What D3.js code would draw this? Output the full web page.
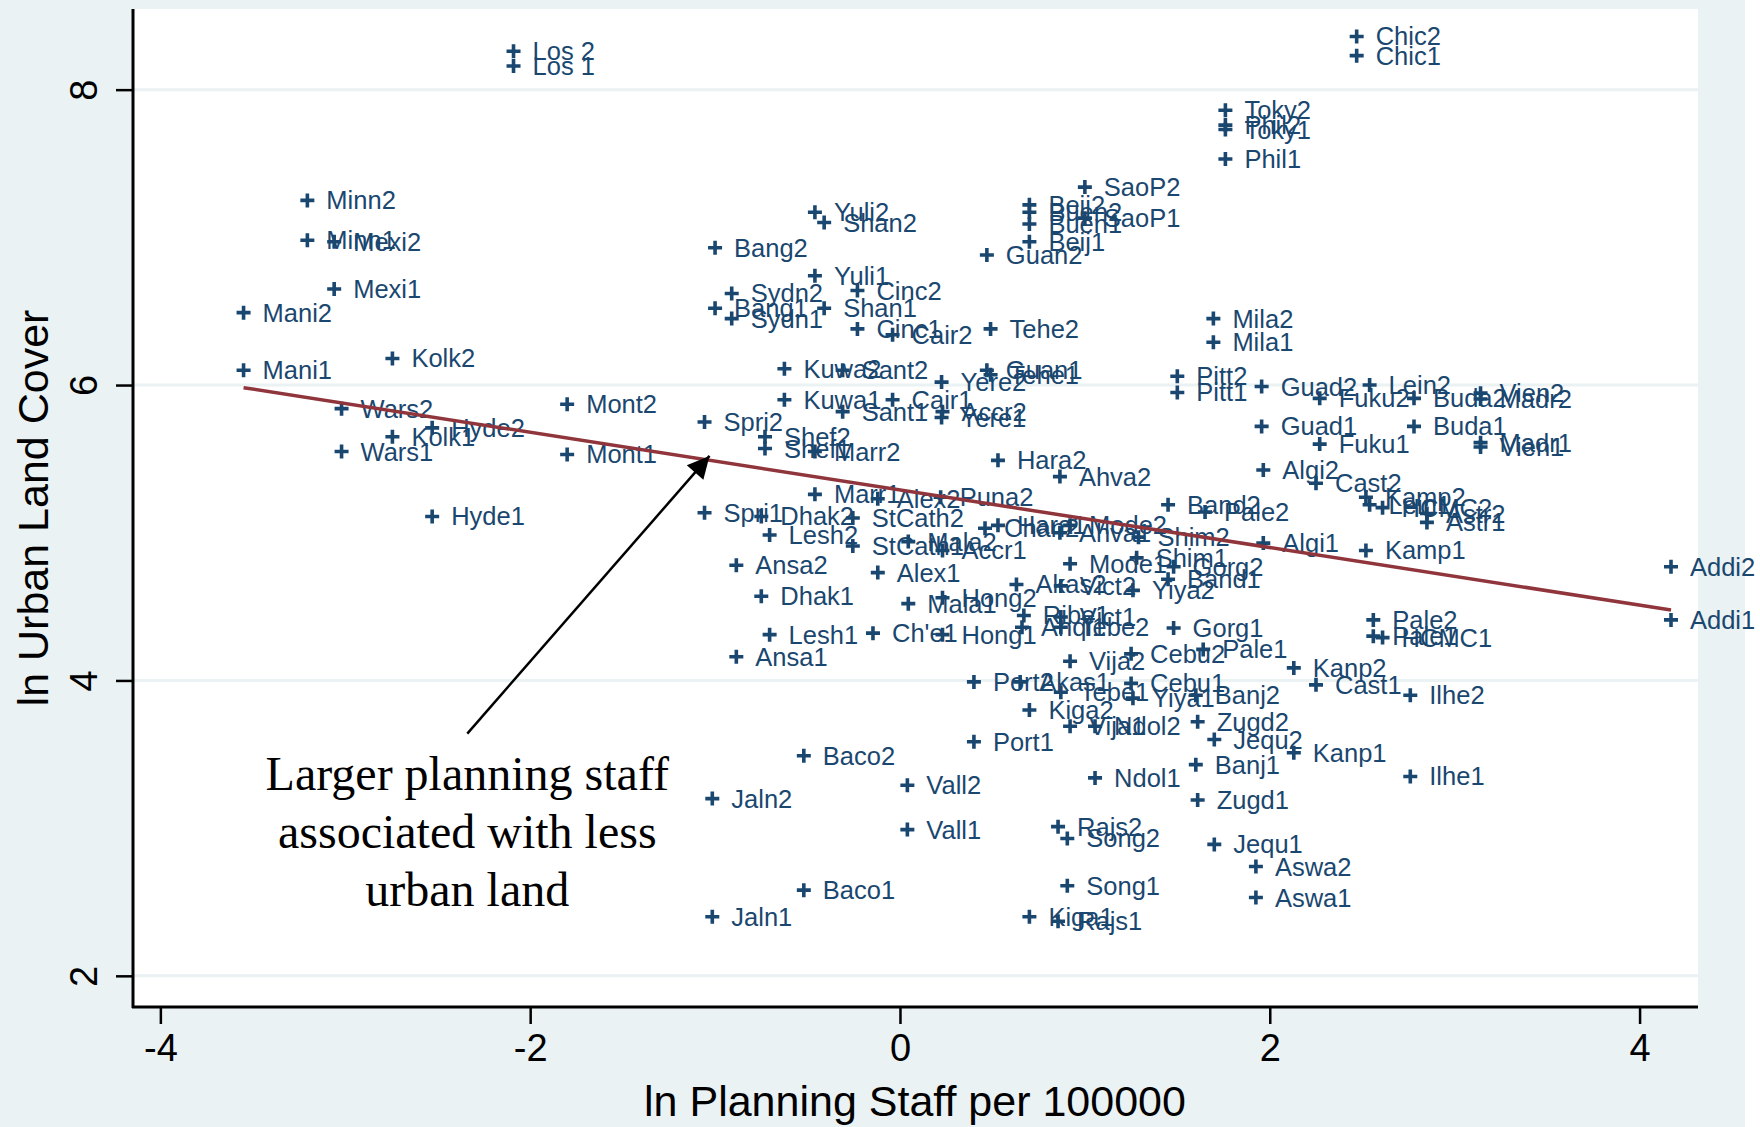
<!DOCTYPE html>
<head>
  <meta charset="utf-8">
  <script src="https://d3js.org/d3.v7.min.js"></script>
  <style>
    body { margin:0; background:#fff; }
    .pt { stroke:#1a476f; stroke-width:3.6; fill:none; }
    .lbl { fill:#1a476f; font-family:"Liberation Sans", Arial, sans-serif; font-size:25.5px; }
    .tick text { font-family:"Liberation Sans", Arial, sans-serif; font-size:38px; fill:#000; }
    .ttl { font-family:"Liberation Sans", Arial, sans-serif; font-size:43px; fill:#000; }
    .note { font-family:"Liberation Serif", "Times New Roman", serif; font-size:48px; fill:#000; }
  </style>
</head>
<body>
<script>
// city-period labels with ln planning staff (x) and ln urban land cover (y)
var cities = ["Los 2","Los 1","Chic2","Chic1","Toky2","Phil2","Toky1","Phil1","SaoP2","SaoP1",
  "Beij2","Buen2","Buen1","Beij1","Guan2","Minn2","Minn1","Mexi2","Mexi1","Mani2","Mani1",
  "Kolk2","Kolk1","Wars2","Wars1","Hyde2","Hyde1","Mont2","Mont1","Bang2","Bang1",
  "Yuli2","Yuli1","Shan2","Shan1","Sydn2","Sydn1","Cinc2","Cinc1","Cair2","Cair1",
  "Tehe2","Tehe1","Guan1","Kuwa2","Kuwa1","Sant2","Sant1","Yere2","Yere1","Accr2","Accr1",
  "Spri2","Spri1","Shef2","Shef1","Marr2","Marr1","Alex2","Alex1","Puna2","Dhak2","Dhak1",
  "StCath2","StCath1","Lesh2","Lesh1","Mala2","Mala1","Ansa2","Ansa1","Ch'e1","Hong1",
  "Port2","Port1","Hara2","Hara1","Ahva2","Ahva1","Mode2","Mode1","Shim2","Shim1",
  "Pitt2","Pitt1","Mila2","Mila1","Guad2","Guad1","Lein2","Lein1","Fuku2","Fuku1",
  "Buda2","Buda1","Vien2","Madr2","Madr1","Vien1","Algi2","Algi1","Cast2","Cast1",
  "Kamp2","Kamp1","Astr2","Astr1","Band2","Band1","Pale2","Pale1","Gorg2","Gorg1",
  "Addi2","Addi1","Ribe1","Cebu2","Cebu1","Kanp2","Kanp1","Vija2","Vija1","Ilhe2","Ilhe1",
  "Yiya2","Yiya1","Banj2","Banj1","Akas1","Kiga2","Kiga1","Ndol2","Ndol1","Zugd2","Zugd1",
  "Jequ2","Jequ1","Baco2","Baco1","Jaln2","Jaln1","Vall2","Vall1","Rajs2","Rajs1",
  "Song2","Song1","Aswa2","Aswa1","Pale2","Pale1","HCMC2","HCMC1","Chan2","Hong2",
  "Akas2","Vict2","Vict1","Anqi1","Tebe2","Tebe1"];
var staff = [-2.09,-2.09,2.47,2.47,1.76,1.76,1.76,1.76,1.00,1.00,
  0.70,0.70,0.70,0.70,0.47,-3.205,-3.205,-3.06,-3.06,-3.55,-3.55,
  -2.745,-2.745,-3.02,-3.02,-2.53,-2.53,-1.80,-1.80,-1.0,-1.0,
  -0.46,-0.46,-0.41,-0.41,-0.91,-0.91,-0.23,-0.23,-0.04,-0.04,
  0.49,0.49,0.47,-0.625,-0.625,-0.31,-0.31,0.225,0.225,0.23,0.23,
  -1.057,-1.057,-0.73,-0.73,-0.46,-0.46,-0.12,-0.12,0.22,-0.75,-0.75,
  -0.255,-0.255,-0.705,-0.705,0.045,0.045,-0.885,-0.885,-0.146,0.23,
  0.40,0.40,0.53,0.53,0.865,0.865,0.92,0.92,1.29,1.28,
  1.50,1.50,1.695,1.695,1.956,1.956,2.54,2.54,2.27,2.27,
  2.78,2.78,3.14,3.14,3.14,3.14,1.965,1.965,2.25,2.25,
  2.52,2.52,2.85,2.85,1.45,1.45,1.65,1.64,1.48,1.48,
  4.17,4.17,0.67,1.25,1.25,2.13,2.13,0.92,0.92,2.76,2.76,
  1.26,1.26,1.60,1.60,0.65,0.70,0.70,1.055,1.055,1.61,1.61,
  1.70,1.70,-0.52,-0.52,-1.015,-1.015,0.04,0.04,0.855,0.855,
  0.905,0.905,1.925,1.925,2.56,2.56,2.61,2.61,0.46,0.23,
  0.63,0.87,0.87,0.66,0.87,0.87];
var land = [8.26,8.16,8.36,8.23,7.86,7.76,7.73,7.53,7.34,7.13,
  7.22,7.17,7.09,6.97,6.88,7.25,6.98,6.97,6.65,6.49,6.10,
  6.18,5.65,5.84,5.55,5.71,5.11,5.87,5.53,6.93,6.52,
  7.17,6.74,7.10,6.52,6.62,6.45,6.64,6.38,6.34,5.90,
  6.38,6.07,6.10,6.11,5.90,6.10,5.82,6.02,5.78,5.82,4.88,
  5.75,5.135,5.65,5.57,5.55,5.26,5.23,4.73,5.24,5.11,4.57,
  5.10,4.91,4.985,4.31,4.94,4.52,4.78,4.16,4.32,4.31,
  3.99,3.585,5.49,5.05,5.38,5.00,5.05,4.79,4.97,4.83,
  6.06,5.95,6.45,6.29,5.99,5.72,6.00,5.19,5.91,5.60,
  5.91,5.72,5.945,5.905,5.61,5.58,5.425,4.93,5.335,3.97,
  5.24,4.88,5.13,5.07,5.19,4.685,5.14,4.21,4.77,4.355,
  4.77,4.41,4.44,4.18,3.98,4.085,3.51,4.13,3.69,3.90,3.35,
  4.61,3.88,3.90,3.43,3.99,3.80,2.40,3.69,3.34,3.72,3.19,
  3.60,2.89,3.49,2.58,3.20,2.40,3.29,2.99,3.01,2.37,
  2.93,2.61,2.74,2.53,4.41,4.30,5.17,4.29,5.03,4.56,
  4.65,4.64,4.43,4.36,4.36,3.92];

// linear fit
var fitIntercept = 5.29, fitSlope = -0.195;

var xTicks = [-4,-2,0,2,4];
var yTicks = [2,4,6,8];
var noteLines = ["Larger planning staff", "associated with less", "urban land"];
var noteFrom = [-2.34, 3.64], noteTo = [-1.03, 5.52];

var W = 1760, H = 1127;
var plot = {left:133, right:1698, top:9, bottom:1007};

var x = d3.scaleLinear().domain([-4.148, 4.316]).range([plot.left, plot.right]);
var y = d3.scaleLinear().domain([1.789, 8.546]).range([plot.bottom, plot.top]);

var svg = d3.select('body').append('svg').attr('width', W).attr('height', H);

svg.append('rect').attr('width', 1745).attr('height', H).attr('fill', '#eaf2f3');
svg.append('rect').attr('x', plot.left).attr('y', plot.top)
  .attr('width', plot.right - plot.left).attr('height', plot.bottom - plot.top).attr('fill', '#fff');

// gridlines
svg.append('g').selectAll('line').data(yTicks).enter().append('line')
  .attr('x1', plot.left).attr('x2', plot.right)
  .attr('y1', d => y(d)).attr('y2', d => y(d))
  .attr('stroke', '#eaf2f3').attr('stroke-width', 3);

// axes
var xAxisG = svg.append('g').attr('class', 'xAxis')
  .attr('transform', `translate(0, ${plot.bottom})`)
  .call(d3.axisBottom(x).tickValues(xTicks).tickSize(17).tickPadding(10).tickFormat(d3.format('d')));
xAxisG.select('.domain').remove();
xAxisG.selectAll('.tick line').attr('stroke', '#000').attr('stroke-width', 2.5);
xAxisG.selectAll('.tick text').text(d => String(d).replace('\u2212', '-'));

var yAxisG = svg.append('g').attr('class', 'yAxis')
  .attr('transform', `translate(${plot.left}, 0)`)
  .call(d3.axisLeft(y).tickValues(yTicks).tickSize(17).tickFormat(d3.format('d')));
yAxisG.select('.domain').remove();
yAxisG.selectAll('.tick line').attr('stroke', '#000').attr('stroke-width', 2.5);
yAxisG.selectAll('.tick text')
  .attr('x', null).attr('dy', null)
  .attr('text-anchor', 'middle')
  .attr('transform', 'translate(-49,0) rotate(-90)')
  .attr('dominant-baseline', 'central');

svg.append('line').attr('x1', plot.left).attr('x2', plot.left)
  .attr('y1', plot.top).attr('y2', plot.bottom + 1).attr('stroke', '#000').attr('stroke-width', 3);
svg.append('line').attr('x1', plot.left - 1).attr('x2', plot.right)
  .attr('y1', plot.bottom).attr('y2', plot.bottom).attr('stroke', '#000').attr('stroke-width', 3);

svg.append('text').attr('class', 'ttl')
  .attr('x', 915).attr('y', 1116).attr('text-anchor', 'middle')
  .text('ln Planning Staff per 100000');
svg.append('text').attr('class', 'ttl')
  .attr('transform', `translate(48, ${(plot.top + plot.bottom) / 2}) rotate(-90)`)
  .attr('text-anchor', 'middle')
  .text('ln Urban Land Cover');

// points
var data = cities.map((c, i) => ({name: c, sx: staff[i], ly: land[i]}));

svg.append('g').selectAll('path').data(data).enter().append('path')
  .attr('class', 'pt')
  .attr('d', d => {
    var cx = x(d.sx), cy = y(d.ly), r = 7;
    return `M${cx - r},${cy}H${cx + r}M${cx},${cy - r}V${cy + r}`;
  });

svg.append('g').selectAll('text').data(data).enter().append('text')
  .attr('class', 'lbl')
  .attr('x', d => x(d.sx) + 19)
  .attr('y', d => y(d.ly))
  .attr('dominant-baseline', 'central')
  .text(d => d.name);

// fitted line
var xExt = d3.extent(staff);
svg.append('line')
  .attr('x1', x(xExt[0])).attr('y1', y(fitIntercept + fitSlope * xExt[0]))
  .attr('x2', x(xExt[1])).attr('y2', y(fitIntercept + fitSlope * xExt[1]))
  .attr('stroke', '#90353b').attr('stroke-width', 3.5);

// annotation
svg.append('defs').append('marker')
  .attr('id', 'ah').attr('viewBox', '0 0 10 10').attr('refX', 10).attr('refY', 5)
  .attr('orient', 'auto').attr('markerUnits', 'userSpaceOnUse')
  .attr('markerWidth', 30).attr('markerHeight', 22)
  .append('path').attr('d', 'M0,0L10,5L0,10z').attr('fill', '#000');

svg.append('line')
  .attr('x1', x(noteFrom[0])).attr('y1', y(noteFrom[1]))
  .attr('x2', x(noteTo[0])).attr('y2', y(noteTo[1]))
  .attr('stroke', '#000').attr('stroke-width', 2.5).attr('marker-end', 'url(#ah)');

svg.append('g').selectAll('text').data(noteLines).enter().append('text')
  .attr('class', 'note')
  .attr('x', x(noteFrom[0]))
  .attr('y', (d, i) => 773 + i * 58)
  .attr('text-anchor', 'middle')
  .attr('dominant-baseline', 'central')
  .text(d => d);
</script>
</body>
